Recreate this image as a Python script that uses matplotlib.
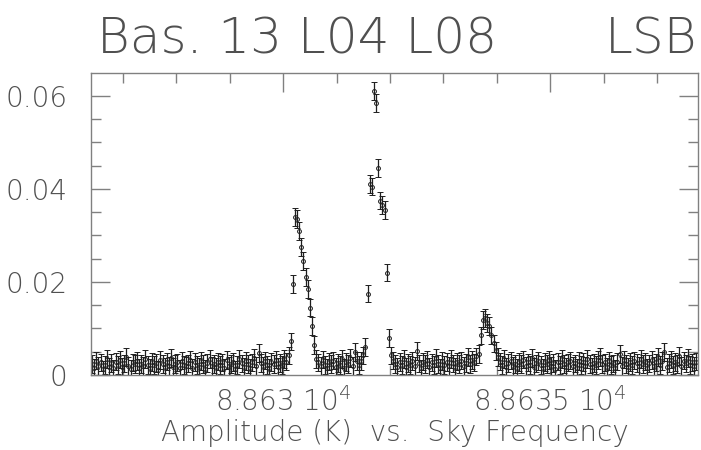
import numpy as np
import matplotlib
matplotlib.use("Agg")
import matplotlib.pyplot as plt
from matplotlib.ticker import MultipleLocator, FixedLocator

# spectrum: channel grid (MHz) and amplitudes (K)
freq_start = 88626.42
chan_width = 0.04

baseline_a = [
    0.0024, 0.0016, 0.0031, 0.0019, 0.0027, 0.0012, 0.0022, 0.0035, 0.0018, 0.0026,
    0.0014, 0.0029, 0.0021, 0.0033, 0.0017, 0.0025, 0.0038, 0.0020, 0.0013, 0.0027,
    0.0023, 0.0030, 0.0016, 0.0024, 0.0019, 0.0034, 0.0022, 0.0015, 0.0028, 0.0021,
    0.0026, 0.0011, 0.0032, 0.0024, 0.0018, 0.0029, 0.0020, 0.0036, 0.0017, 0.0023,
    0.0027, 0.0014, 0.0031, 0.0022, 0.0019, 0.0025, 0.0033, 0.0016, 0.0028, 0.0021,
    0.0018, 0.0030, 0.0024, 0.0013, 0.0026, 0.0035, 0.0020, 0.0023, 0.0017, 0.0029,
    0.0022, 0.0027, 0.0015, 0.0032, 0.0019, 0.0024, 0.0028, 0.0012, 0.0021, 0.0034,
    0.0025, 0.0018, 0.0030, 0.0023, 0.0016, 0.0027, 0.0037, 0.0020, 0.0048, 0.0026,
    0.0019, 0.0031, 0.0022, 0.0015, 0.0028, 0.0024, 0.0033, 0.0018, 0.0026, 0.0021,
    0.0035, 0.0029, 0.0042,
]
line_1 = [0.0072, 0.0195, 0.0340, 0.0335, 0.0310, 0.0275, 0.0245, 0.0210, 0.0185,
          0.0145, 0.0105, 0.0065, 0.0035]
baseline_b = [
    0.0027, 0.0019, 0.0033, 0.0022, 0.0016, 0.0029, 0.0024, 0.0031, 0.0018, 0.0026,
    0.0021, 0.0034, 0.0015, 0.0028, 0.0023, 0.0037, 0.0020, 0.0050, 0.0030, 0.0022,
    0.0030, 0.0042,
]
line_2 = [0.0060, 0.0175, 0.0410, 0.0405, 0.0610, 0.0585, 0.0445, 0.0375, 0.0365,
          0.0355, 0.0220, 0.0080, 0.0042]
baseline_c = [
    0.0031, 0.0024, 0.0018, 0.0028, 0.0021, 0.0035, 0.0017, 0.0026, 0.0022, 0.0030,
    0.0019, 0.0052, 0.0025, 0.0014, 0.0029, 0.0023, 0.0033, 0.0018, 0.0027, 0.0021,
    0.0036, 0.0024, 0.0016, 0.0030, 0.0022, 0.0028, 0.0019, 0.0034, 0.0025, 0.0017,
    0.0029, 0.0023, 0.0031, 0.0020, 0.0026, 0.0038, 0.0024, 0.0032, 0.0027, 0.0040,
]
line_3 = [0.0045, 0.0085, 0.0118, 0.0122, 0.0112, 0.0105, 0.0085, 0.0068, 0.0052, 0.0038]
baseline_d = [
    0.0029, 0.0022, 0.0034, 0.0018, 0.0026, 0.0031, 0.0020, 0.0024, 0.0015, 0.0028,
    0.0023, 0.0033, 0.0019, 0.0027, 0.0021, 0.0036, 0.0017, 0.0025, 0.0030, 0.0022,
    0.0016, 0.0028, 0.0024, 0.0032, 0.0019, 0.0026, 0.0013, 0.0029, 0.0021, 0.0035,
    0.0023, 0.0018, 0.0027, 0.0031, 0.0020, 0.0025, 0.0016, 0.0030, 0.0022, 0.0028,
    0.0019, 0.0034, 0.0024, 0.0017, 0.0026, 0.0021, 0.0032, 0.0038, 0.0023, 0.0027,
    0.0018, 0.0030, 0.0022, 0.0025, 0.0014, 0.0029, 0.0045, 0.0020, 0.0033, 0.0024,
    0.0017, 0.0028, 0.0021, 0.0031, 0.0026, 0.0019, 0.0035, 0.0023, 0.0029, 0.0016,
    0.0025, 0.0032, 0.0020, 0.0027, 0.0039, 0.0022, 0.0030, 0.0050, 0.0018, 0.0026,
    0.0033, 0.0021, 0.0028, 0.0024, 0.0041, 0.0019, 0.0031, 0.0025, 0.0036, 0.0022,
    0.0027, 0.0020, 0.0029,
]
amp_err = 0.0019

x_ticks = [88630, 88635]
x_ticklabels = ["8.863 10$^{4}$", "8.8635 10$^{4}$"]
y_ticks = [0, 0.02, 0.04, 0.06]
y_ticklabels = ["0", "0.02", "0.04", "0.06"]

amplitude = np.array(baseline_a + line_1 + baseline_b + line_2 + baseline_c + line_3 + baseline_d)
freq = freq_start + chan_width * np.arange(len(amplitude))

txt_color = "#505050"
ax_color = "#808080"
plt.rcParams["font.family"] = ["DejaVu Sans"]
plt.rcParams["mathtext.fontset"] = "custom"
plt.rcParams["mathtext.rm"] = "DejaVu Sans:light"
plt.rcParams["mathtext.default"] = "rm"

fig = plt.figure(figsize=(7.01, 4.5), dpi=100)
ax = fig.add_axes([91 / 701, 75 / 450, 607 / 701, 302 / 450])

ax.errorbar(freq, amplitude, yerr=amp_err, fmt="o", ms=2.8, mfc="none",
            mec="#1e1e1e", mew=0.7, ecolor="#1e1e1e", elinewidth=0.9,
            capsize=2.3, capthick=0.8)

ax.set_xlim(88626.40, 88637.77)
ax.set_ylim(0, 0.0649)

ax.xaxis.set_major_locator(FixedLocator(x_ticks))
ax.xaxis.set_minor_locator(MultipleLocator(1))
ax.yaxis.set_major_locator(FixedLocator(y_ticks))
ax.yaxis.set_minor_locator(MultipleLocator(0.005))
ax.set_xticklabels(x_ticklabels)
ax.set_yticklabels(y_ticklabels)

for s in ax.spines.values():
    s.set_color(ax_color)
    s.set_linewidth(1.0)
ax.tick_params(which="both", direction="in", top=True, right=True,
               color=ax_color, width=1.0, labelcolor=txt_color)
ax.tick_params(which="major", length=14, labelsize=20, pad=9)
ax.tick_params(which="minor", length=7)
ax.tick_params(axis="y", which="major", pad=17)

for lab in ax.get_xticklabels() + ax.get_yticklabels():
    lab.set_fontweight("light")

ax.set_xlabel("Amplitude (K)  vs.  Sky Frequency", fontsize=20,
              color=txt_color, fontweight="light", labelpad=1)

fig.text(97 / 701, 1 - 53 / 450, "Bas. 13 L04 L08", fontsize=36,
         color=txt_color, fontweight="light", ha="left", va="baseline")
fig.text(697 / 701, 1 - 53 / 450, "LSB", fontsize=36,
         color=txt_color, fontweight="light", ha="right", va="baseline")

fig.savefig("out.png", dpi=100)
